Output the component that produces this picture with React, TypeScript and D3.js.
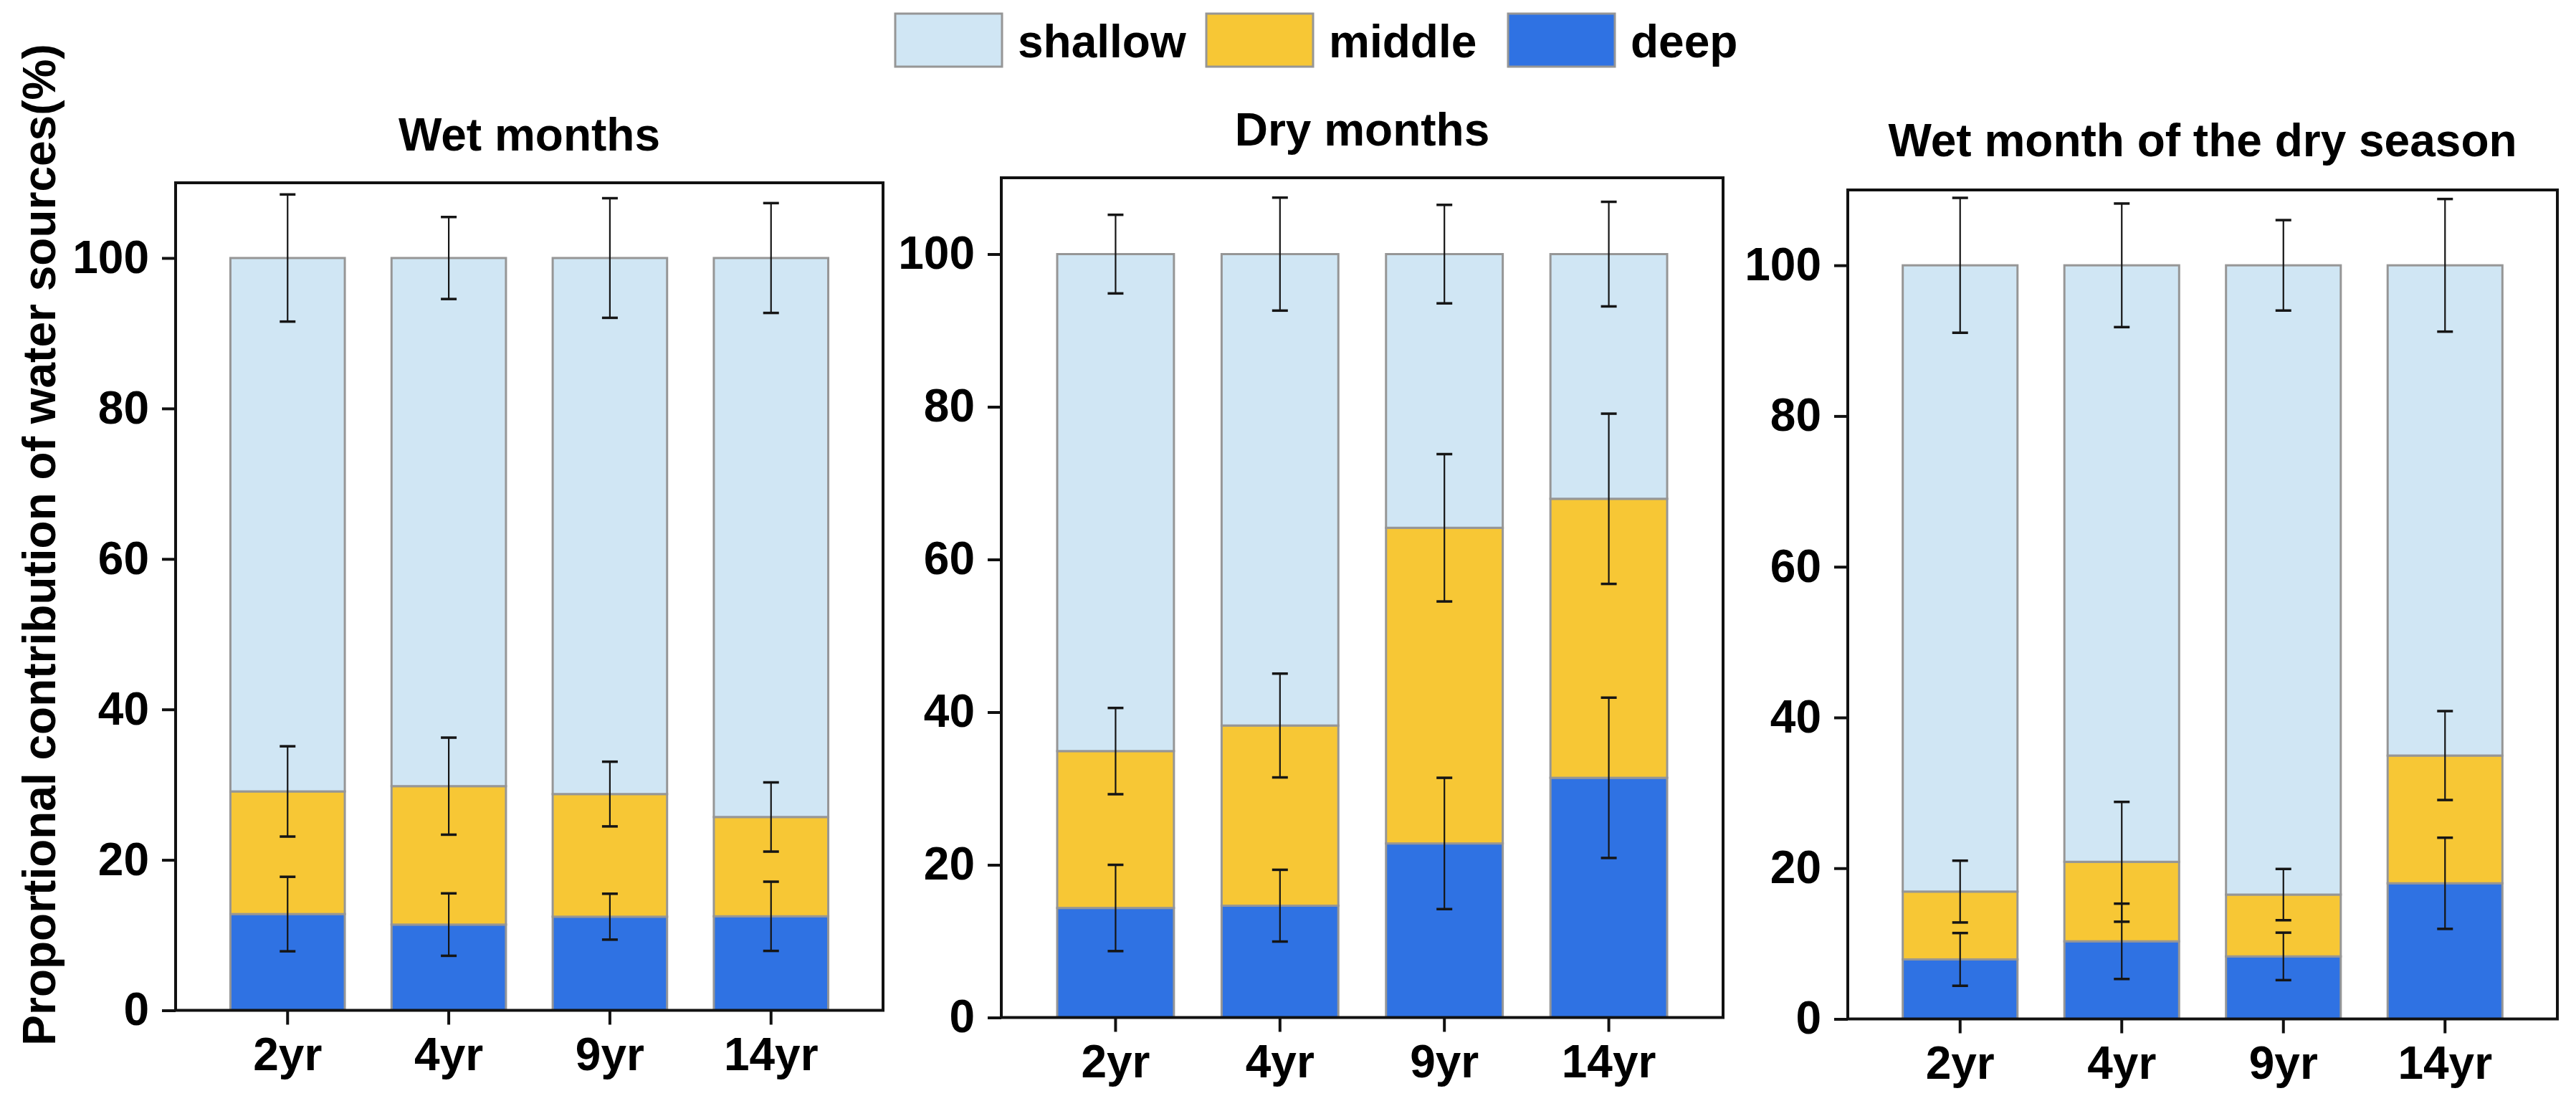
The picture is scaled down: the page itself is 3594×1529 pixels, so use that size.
import { useEffect, useRef } from 'react';
import * as d3 from 'd3';

// categories + legend
const categories = ["2yr", "4yr", "9yr", "14yr"];
const sourceKeys = ["deep", "middle", "shallow"];
const legendLabels = ["shallow", "middle", "deep"];
const yTicks = [0, 20, 40, 60, 80, 100];
const panelTitles = ["Wet months", "Dry months", "Wet month of the dry season"];

// Wet months (%)
const wetDeep = [12.8, 11.4, 12.45, 12.5];
const wetMiddle = [16.3, 18.4, 16.3, 13.2];
const wetShallow = [70.9, 70.2, 71.25, 74.3];
const wetDeepSd = [4.95, 4.15, 3.05, 4.6];
const wetMiddleSd = [6.0, 6.45, 4.3, 4.6];
const wetShallowSd = [8.45, 5.45, 7.95, 7.3];

// Dry months (%)
const dryDeep = [14.35, 14.65, 22.8, 31.4];
const dryMiddle = [20.55, 23.6, 41.35, 36.55];
const dryShallow = [65.1, 61.75, 35.85, 32.05];
const dryDeepSd = [5.65, 4.7, 8.6, 10.5];
const dryMiddleSd = [5.65, 6.8, 9.65, 11.15];
const dryShallowSd = [5.15, 7.4, 6.45, 6.85];

// Wet month of the dry season (%)
const wdDeep = [7.9, 10.3, 8.3, 18.0];
const wdMiddle = [9.0, 10.55, 8.2, 16.95];
const wdShallow = [83.1, 79.15, 83.5, 65.05];
const wdDeepSd = [3.5, 5.0, 3.15, 6.05];
const wdMiddleSd = [4.1, 7.95, 3.4, 5.9];
const wdShallowSd = [8.95, 8.2, 6.0, 8.8];

const colors: Record<string, string> = {
  shallow: "#d0e6f4",
  middle: "#f7c735",
  deep: "#2f72e3",
};

const FONT = "'Liberation Sans', Arial, Helvetica, sans-serif";

function buildRows(deep: number[], middle: number[], shallow: number[],
                   deepSd: number[], middleSd: number[], shallowSd: number[]) {
  return categories.map((cat, i) => ({
    cat,
    deep: deep[i],
    middle: middle[i],
    shallow: shallow[i],
    sd: { deep: deepSd[i], middle: middleSd[i], shallow: shallowSd[i] } as Record<string, number>,
  }));
}

const panelData = [
  buildRows(wetDeep, wetMiddle, wetShallow, wetDeepSd, wetMiddleSd, wetShallowSd),
  buildRows(dryDeep, dryMiddle, dryShallow, dryDeepSd, dryMiddleSd, dryShallowSd),
  buildRows(wdDeep, wdMiddle, wdShallow, wdDeepSd, wdMiddleSd, wdShallowSd),
];

// plot frames in pixels (left, right, top, bottom) and title baselines
const panelBoxes = [
  { x0: 245, x1: 1232, y0: 255, y1: 1409.5, titleY: 210 },
  { x0: 1397, x1: 2404, y0: 248, y1: 1419.5, titleY: 203 },
  { x0: 2578, x1: 3568, y0: 265, y1: 1421.5, titleY: 218 },
];

export default function App() {
  const svgRef = useRef<SVGSVGElement | null>(null);

  useEffect(() => {
    if (!svgRef.current) return;
    const svg = d3.select(svgRef.current);
    svg.selectAll("*").remove();

    svg.append("rect").attr("width", 3594).attr("height", 1529).attr("fill", "#fff");

    const stack = d3.stack<any>().keys(sourceKeys);

    panelData.forEach((rows, pi) => {
      const box = panelBoxes[pi];
      const w = box.x1 - box.x0;
      const h = box.y1 - box.y0;
      const g = svg.append("g").attr("transform", `translate(${box.x0},${box.y0})`);

      const x = d3.scaleBand().domain(categories).range([0, w]).paddingInner(0.29).paddingOuter(0.34);
      const y = d3.scaleLinear().domain([0, 110]).range([h, 0]);

      const series = stack(rows);

      // stacked bars
      series.forEach(s => {
        g.append("g").selectAll("rect")
          .data(s)
          .enter()
          .append("rect")
          .attr("x", d => x(d.data.cat)!)
          .attr("width", x.bandwidth())
          .attr("y", d => y(d[1]))
          .attr("height", d => y(d[0]) - y(d[1]))
          .attr("fill", colors[s.key])
          .attr("stroke", "#969696")
          .attr("stroke-width", 3);
      });

      // error bars at the top of each segment
      const capW = 22;
      series.forEach(s => {
        const eg = g.append("g");
        s.forEach(d => {
          const sd = d.data.sd[s.key];
          const cx = x(d.data.cat)! + x.bandwidth() / 2;
          const hi = y(d[1] + sd);
          const lo = y(d[1] - sd);
          eg.append("line").attr("x1", cx).attr("x2", cx).attr("y1", hi).attr("y2", lo)
            .attr("stroke", "#151515").attr("stroke-width", 2.2);
          [hi, lo].forEach(yy => {
            eg.append("line").attr("x1", cx - capW / 2).attr("x2", cx + capW / 2)
              .attr("y1", yy).attr("y2", yy)
              .attr("stroke", "#151515").attr("stroke-width", 3.5);
          });
        });
      });

      // axes
      const yAxis = g.append("g").call(
        d3.axisLeft(y).tickValues(yTicks).tickSize(19).tickSizeOuter(0).tickPadding(18)
      );
      const xAxis = g.append("g").attr("transform", `translate(0,${h})`).call(
        d3.axisBottom(x).tickSize(20).tickSizeOuter(0).tickPadding(0)
      );
      [yAxis, xAxis].forEach(ax => {
        ax.select(".domain").remove();
        ax.selectAll(".tick line").attr("stroke", "#111").attr("stroke-width", 4);
        ax.selectAll(".tick text")
          .attr("fill", "#000")
          .style("font-family", FONT)
          .style("font-weight", "bold")
          .style("font-size", "64px");
      });
      xAxis.selectAll(".tick text").attr("dy", null).attr("y", 83);

      // frame
      g.append("rect").attr("x", 0).attr("y", 0).attr("width", w).attr("height", h)
        .attr("fill", "none").attr("stroke", "#111").attr("stroke-width", 4);

      // title
      svg.append("text")
        .attr("x", box.x0 + w / 2)
        .attr("y", box.titleY)
        .attr("text-anchor", "middle")
        .style("font-family", FONT)
        .style("font-weight", "bold")
        .style("font-size", "64px")
        .text(panelTitles[pi]);
    });

    // y axis title
    svg.append("text")
      .attr("transform", "translate(77,760) rotate(-90)")
      .attr("text-anchor", "middle")
      .style("font-family", FONT)
      .style("font-weight", "bold")
      .style("font-size", "64px")
      .text("Proportional contribution of water sources(%)");

    // legend
    const legendBoxX = [1249, 1683, 2104];
    const legend = svg.append("g");
    legendLabels.forEach((lab, i) => {
      legend.append("rect")
        .attr("x", legendBoxX[i]).attr("y", 19)
        .attr("width", 149).attr("height", 74)
        .attr("fill", colors[lab])
        .attr("stroke", "#969696").attr("stroke-width", 3);
      legend.append("text")
        .attr("x", legendBoxX[i] + 171).attr("y", 80)
        .style("font-family", FONT)
        .style("font-weight", "bold")
        .style("font-size", "64px")
        .text(lab);
    });
  }, []);

  return (
    <div style={{ position: "absolute", left: 0, top: 0 }}>
      <svg ref={svgRef} width={3594} height={1529} style={{ display: "block" }}></svg>
    </div>
  );
}
